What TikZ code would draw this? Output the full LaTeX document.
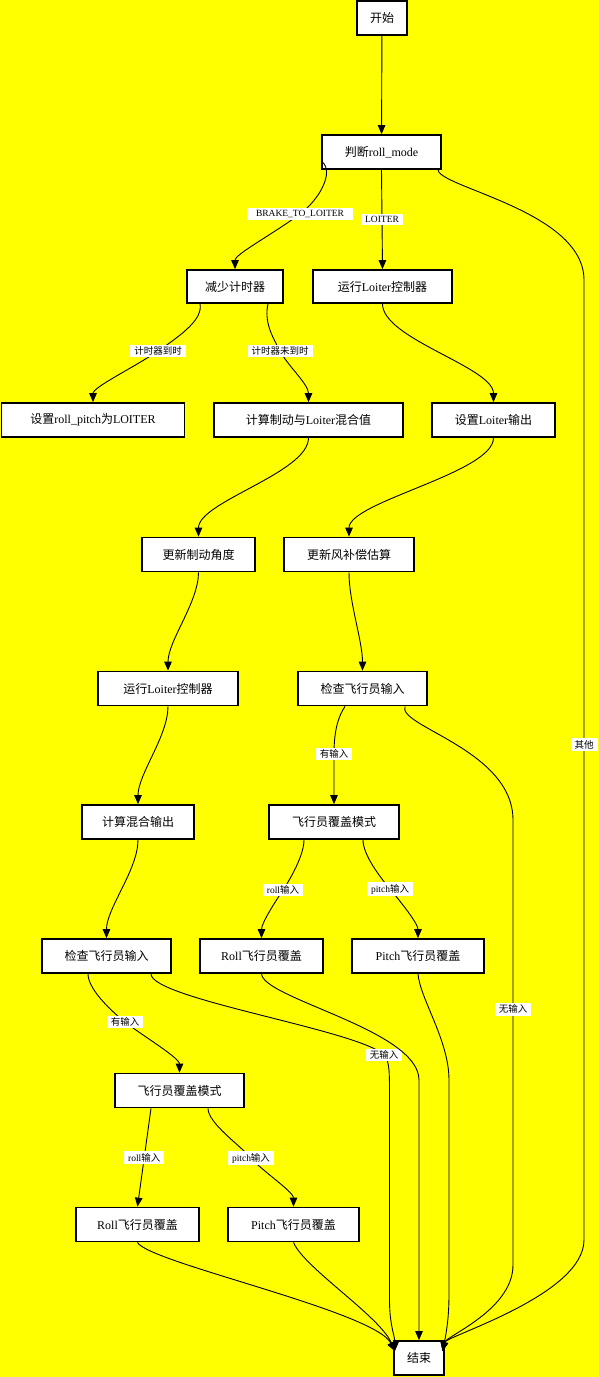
\documentclass[tikz,border=0pt]{standalone}
\usepackage{fontspec}
\setmainfont{Liberation Serif}
\newfontfamily\cjk{Noto Sans CJK SC}
\newcommand{\zh}[1]{{\cjk #1}}
\usetikzlibrary{arrows.meta}
\definecolor{bgyellow}{RGB}{255,255,0}
\begin{document}
\begin{tikzpicture}[x=1pt,y=-1pt,
  box/.style={draw=black, line width=1.7pt, fill=white, minimum height=34pt, inner sep=2pt, font=\fontsize{12}{14}\selectfont},
  lbl/.style={fill=white, inner xsep=4pt, inner ysep=2pt, font=\fontsize{9.5}{11}\selectfont},
  edge/.style={draw=black, line width=0.9pt, -{Triangle[length=9pt,width=7.5pt]}}]
\fill[bgyellow] (0,0) rectangle (599,1377);
\useasboundingbox (0,0) rectangle (599,1377);

% nodes
\node[box, minimum width=50pt] (start) at (382,18) {\zh{开始}};
\node[box, minimum width=119pt] (judge) at (381.5,152) {\zh{判断}roll\_mode};
\node[box, minimum width=96pt, minimum height=33pt] (dec) at (235,286.5) {\zh{减少计时器}};
\node[box, minimum width=139pt, minimum height=33pt] (loiterA) at (382.5,286.5) {\zh{运行}Loiter\zh{控制器}};
\node[box, minimum width=183pt] (setrp) at (93,420) {\zh{设置}roll\_pitch\zh{为}LOITER};
\node[box, minimum width=189pt] (calcbl) at (308.5,420) {\zh{计算制动与}Loiter\zh{混合值}};
\node[box, minimum width=123pt] (setlo) at (493.5,420) {\zh{设置}Loiter\zh{输出}};
\node[box, minimum width=113pt] (updbr) at (198.5,554.5) {\zh{更新制动角度}};
\node[box, minimum width=130pt] (updwd) at (349,554.5) {\zh{更新风补偿估算}};
\node[box, minimum width=140pt] (loiterB) at (168,688.5) {\zh{运行}Loiter\zh{控制器}};
\node[box, minimum width=129pt] (chkR) at (362.5,688.5) {\zh{检查飞行员输入}};
\node[box, minimum width=112pt] (mix) at (138,822) {\zh{计算混合输出}};
\node[box, minimum width=130pt] (ovmR) at (334,822) {\zh{飞行员覆盖模式}};
\node[box, minimum width=129pt] (chkL) at (106.5,956) {\zh{检查飞行员输入}};
\node[box, minimum width=123pt] (rollR) at (261.5,956) {Roll\zh{飞行员覆盖}};
\node[box, minimum width=132pt] (pitchR) at (418,956) {Pitch\zh{飞行员覆盖}};
\node[box, minimum width=129pt] (ovmL) at (179.5,1090.5) {\zh{飞行员覆盖模式}};
\node[box, minimum width=123pt] (rollL) at (137.5,1224.5) {Roll\zh{飞行员覆盖}};
\node[box, minimum width=131pt] (pitchL) at (293.5,1224.5) {Pitch\zh{飞行员覆盖}};
\node[box, minimum width=49.5pt] (end) at (419,1358) {\zh{结束}};

\coordinate (endL) at ([shift={(1.5,11)}]end.north west);
\coordinate (endR) at ([shift={(-2,11)}]end.north east);

% edges
\draw[edge] (start) -- (judge);
\draw[edge] ([shift={(1,-8)}]judge.south west) .. controls +(12,10) and +(20,-15) .. (300,214)
  node[lbl, inner xsep=9pt]{BRAKE\_TO\_LOITER}
  .. controls +(-30,22) and +(0,-15) .. (dec.north);
\draw[edge] (judge.south) -- node[lbl]{LOITER} (loiterA.north);
\draw[edge] ([shift={(-4,-1)}]judge.south east) .. controls +(-3,18) and +(0,-70) .. (584,280)
  -- node[lbl,pos=0.484]{\zh{其他}} (584,1240)
  .. controls +(0,55) and +(3,-15) .. (endR);

\draw[edge] ([xshift=-35pt]dec.south) .. controls +(3,15) and +(25,-17) .. (158,351)
  node[lbl]{\zh{计时器到时}}
  .. controls +(-25,17) and +(0,-15) .. (setrp.north);
\draw[edge] ([xshift=33pt]dec.south) .. controls +(-4,18) and +(-8,-15) .. (280,351)
  node[lbl]{\zh{计时器未到时}}
  .. controls +(8,15) and +(0,-18) .. (calcbl.north);
\draw[edge] (loiterA.south) .. controls +(0,35) and +(0,-35) .. (setlo.north);
\draw[edge] (calcbl.south) .. controls +(0,35) and +(0,-35) .. (updbr.north);
\draw[edge] (setlo.south) .. controls +(0,35) and +(0,-35) .. (updwd.north);
\draw[edge] (updbr.south) .. controls +(0,30) and +(0,-30) .. (loiterB.north);
\draw[edge] (updwd.south) .. controls +(0,30) and +(0,-30) .. (chkR.north);
\draw[edge] (loiterB.south) .. controls +(0,30) and +(0,-30) .. (mix.north);
\draw[edge] (mix.south) .. controls +(0,30) and +(0,-30) .. (chkL.north);

\draw[edge] ([xshift=-17.5pt]chkR.south) .. controls +(-8,12) and +(0,-20) .. (334,754)
  node[lbl]{\zh{有输入}} -- (ovmR.north);
\draw[edge] ([xshift=42.5pt]chkR.south) .. controls +(-8,20) and +(0,-70) .. (513,820)
  -- node[lbl,pos=0.425]{\zh{无输入}} (513,1265)
  .. controls +(0,45) and +(3,-15) .. (endR);

\draw[edge] ([xshift=-30pt]ovmR.south) .. controls +(0,15) and +(8,-12) .. (283,890)
  node[lbl]{roll\zh{输入}}
  .. controls +(-8,12) and +(0,-15) .. (rollR.north);
\draw[edge] ([xshift=29pt]ovmR.south) .. controls +(0,15) and +(-10,-12) .. (390,889)
  node[lbl]{pitch\zh{输入}}
  .. controls +(10,12) and +(0,-15) .. (pitchR.north);

\draw[edge] ([xshift=-18.5pt]chkL.south) .. controls +(0,15) and +(-15,-12) .. (125,1022)
  node[lbl]{\zh{有输入}}
  .. controls +(15,12) and +(0,-15) .. (ovmL.north);
\draw[edge] ([xshift=44.5pt]chkL.south) .. controls +(0,25) and +(-25,-25) .. (384,1055)
  node[lbl]{\zh{无输入}}
  .. controls +(5,5) and +(0,-20) .. (389.5,1090)
  -- (389.5,1300) .. controls +(0,25) and +(0,-15) .. (endL);

\draw[edge] (rollR.south) .. controls +(2,25) and +(0,-50) .. (419,1080) -- (end.north);
\draw[edge] (pitchR.south) .. controls +(2,25) and +(0,-40) .. (449,1080)
  -- (449,1295) .. controls +(0,25) and +(3,-15) .. (endR);

\draw[edge] ([xshift=-28.5pt]ovmL.south) -- node[lbl]{roll\zh{输入}} (rollL.north);
\draw[edge] ([xshift=28.5pt]ovmL.south) .. controls +(0,15) and +(-10,-12) .. (251,1158)
  node[lbl]{pitch\zh{输入}}
  .. controls +(10,12) and +(0,-15) .. (pitchL.north);

\draw[edge] (rollL.south) .. controls +(10,20) and +(-20,-40) .. (endL);
\draw[edge] (pitchL.south) .. controls +(10,25) and +(-15,-35) .. (endL);
\end{tikzpicture}
\end{document}
